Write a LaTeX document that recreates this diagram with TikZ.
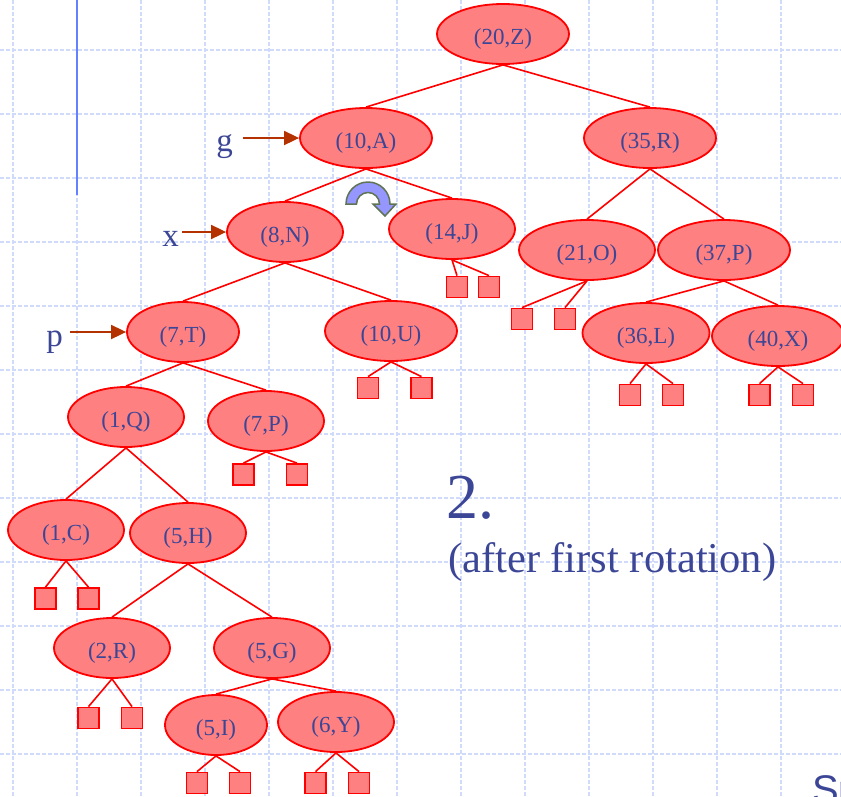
\documentclass[tikz,border=0pt]{standalone}
\usepackage{fontspec}
\setmainfont{Liberation Serif}
\setsansfont{Liberation Sans}
\usepackage{tikz}
\usetikzlibrary{shapes.geometric,arrows.meta}
\definecolor{ink}{RGB}{60,70,150}
\definecolor{nodefill}{RGB}{255,128,128}
\definecolor{gridc}{RGB}{208,218,250}
\definecolor{ptrc}{RGB}{180,50,0}
\definecolor{rotfill}{RGB}{150,150,255}
\definecolor{rotline}{RGB}{95,115,85}
\definecolor{barc}{RGB}{100,130,255}
\tikzset{
	knot/.style={ellipse,draw=red,line width=1.8pt,fill=nodefill,text=ink,inner sep=0pt,minimum width=116pt,minimum height=60pt,text height=21pt,text depth=0pt,font=\fontsize{23}{23}\selectfont},
	wide/.style={knot,minimum width=132pt},
	leaf/.style={rectangle,draw=red,line width=1.8pt,fill=nodefill,inner sep=0pt,minimum size=21pt},
	link/.style={red,line width=1.6pt},
	ptr/.style={ptrc,line width=1.8pt,-{Triangle[length=15pt,width=14pt]}},
	lbl/.style={text=ink,inner sep=0pt,font=\fontsize{33}{33}\selectfont},
	gridline/.style={gridc,line width=1.2pt,dash pattern=on 4pt off 2pt}
}
\begin{document}
\begin{tikzpicture}[x=1pt,y=-1pt]
	\useasboundingbox (0,0) rectangle (841,796);
	\clip (0,0) rectangle (841,796);
	\foreach \gx in {13,77,...,781} \draw[gridline] (\gx,0) -- (\gx,796);
	\foreach \gy in {50,114,...,754} \draw[gridline] (0,\gy) -- (841,\gy);
	\draw[barc,line width=1.5pt] (77,0) -- (77,195);

	\node[wide] (n20Z) at (503,34) {(20,Z)};
	\node[wide] (n10A) at (366,138) {(10,A)};
	\node[wide] (n35R) at (650,138) {(35,R)};
	\node[knot] (n8N) at (285,232) {(8,N)};
	\node[wide,minimum width=126pt] (n14J) at (452,229) {(14,J)};
	\node[wide,minimum width=136pt] (n21O) at (587,250) {(21,O)};
	\node[wide] (n37P) at (724,250) {(37,P)};
	\node[knot,minimum width=112pt] (n7T) at (183,332) {(7,T)};
	\node[wide] (n10U) at (391,331) {(10,U)};
	\node[wide,minimum width=127pt] (n36L) at (646,333) {(36,L)};
	\node[wide] (n40X) at (778,336) {(40,X)};
	\node[knot] (n1Q) at (126,417) {(1,Q)};
	\node[knot] (n7P) at (266,421) {(7,P)};
	\node[knot] (n1C) at (66,530) {(1,C)};
	\node[knot] (n5H) at (188,533) {(5,H)};
	\node[knot] (n2R) at (112,648) {(2,R)};
	\node[knot] (n5G) at (272,648) {(5,G)};
	\node[knot,minimum width=102pt] (n5I) at (216,725) {(5,I)};
	\node[knot] (n6Y) at (336,722) {(6,Y)};

	\foreach \a/\b in {n20Z/n10A,n20Z/n35R,n10A/n8N,n10A/n14J,n35R/n21O,n35R/n37P,n8N/n7T,n8N/n10U,n37P/n36L,n37P/n40X,n7T/n1Q,n7T/n7P,n1Q/n1C,n1Q/n5H,n5H/n2R,n5H/n5G,n5G/n5I,n5G/n6Y}
		\draw[link] (\a.south) -- (\b.north);

	\foreach \p/\u/\v/\h in {n14J/457/489/287,n21O/522/565/319,n10U/368/421.5/388,n36L/630/673/395,n40X/759.5/803/395,n7P/243.5/297/474.5,n1C/45.5/88.5/598.5,n2R/88.5/132/718,n5I/197/240/783,n6Y/315.5/359/783}{
		\node[leaf] (\p-a) at (\u,\h) {};
		\node[leaf] (\p-b) at (\v,\h) {};
		\draw[link] (\p.south) -- (\p-a.north);
		\draw[link] (\p.south) -- (\p-b.north);
	}

	\node[lbl,anchor=base east] (lg) at (233,151) {g};
	\coordinate (gs) at (243,138);
	\draw[ptr] (gs) -- (n10A.west);
	\node[lbl,anchor=base east] (lx) at (179,246) {x};
	\coordinate (xs) at (182,232);
	\draw[ptr] (xs) -- (n8N.west);
	\node[lbl,anchor=base east] (lp) at (63,346) {p};
	\coordinate (ps) at (70,332);
	\draw[ptr] (ps) -- (n7T.west);

	\filldraw[fill=rotfill,draw=rotline,line width=1.5pt] (346,204) arc[start angle=180,end angle=360,radius=22] -- (396,204) -- (385,216) -- (373,204) -- (379.5,204) arc[start angle=360,end angle=180,radius=11.5] -- cycle;

	\node[text=ink,anchor=base west,inner sep=0pt,font=\fontsize{64}{64}\selectfont] (step2) at (446,518) {2.};
	\node[text=ink,anchor=base west,inner sep=0pt,font=\fontsize{42.5}{42.5}\selectfont] (after) at (448,572) {(after first rotation)};
	\node[text=ink,anchor=base west,inner sep=0pt,font=\sffamily\fontsize{40}{40}\selectfont] (sp) at (812,803) {Sp};
\end{tikzpicture}
\end{document}
